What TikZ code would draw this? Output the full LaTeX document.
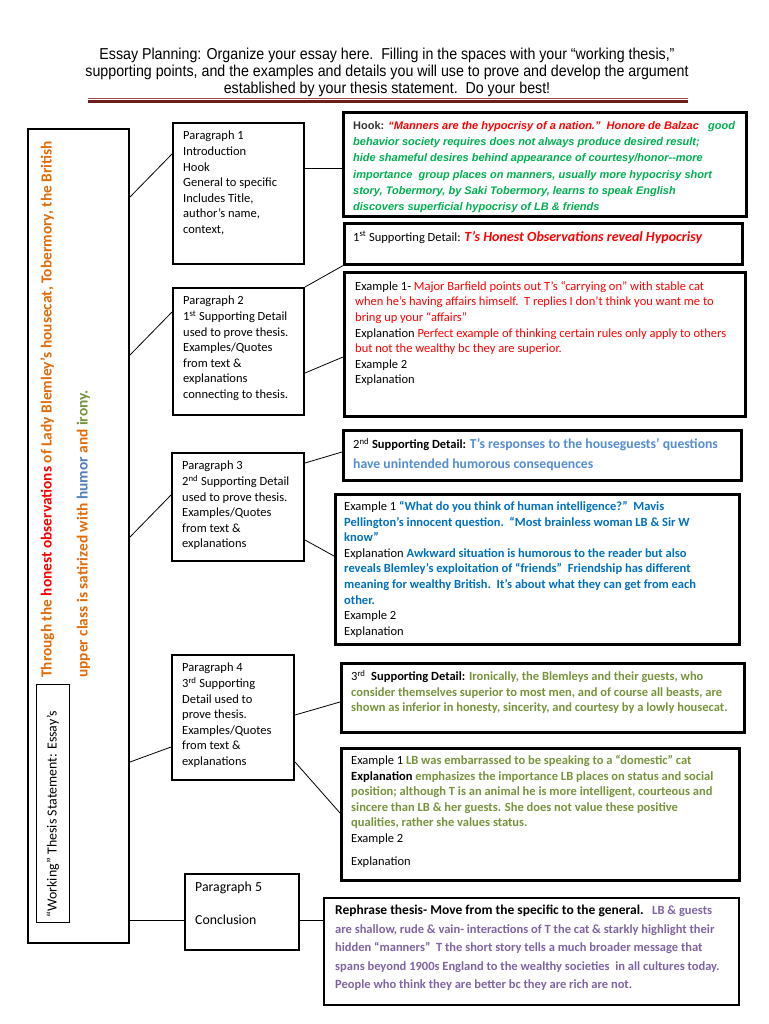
\documentclass[tikz,border=0pt]{standalone}
\usepackage{fontspec}
\setmainfont{Carlito}
\newfontfamily\ari{Liberation Sans}
\newfontfamily\hdrf[FakeStretch=0.9]{Liberation Sans}
\usetikzlibrary{calc}
\definecolor{cOrange}{HTML}{E36C09}
\definecolor{cRed}{HTML}{FF0000}
\definecolor{cHookG}{HTML}{00B050}
\definecolor{cLBlue}{HTML}{548DD4}
\definecolor{cBlue}{HTML}{0070C0}
\definecolor{cHumor}{HTML}{4F81BD}
\definecolor{cOlive}{HTML}{77933C}
\definecolor{cPurple}{HTML}{8064A2}
\definecolor{cMaroonA}{HTML}{9A4A4A}
\definecolor{cMaroonB}{HTML}{6B1E1E}
\newcommand\fsz[2]{\fontsize{#1}{#2}\selectfont}
\begin{document}
\begin{tikzpicture}[x=1pt,y=-1pt,
  pbox/.style={draw, line width=2pt, anchor=north west, inner sep=0pt},
  rbox/.style={draw, line width=2.6pt, anchor=north west, inner sep=0pt},
  conn/.style={line width=0.8pt},
  txt/.style={anchor=north west, inner sep=0pt, align=left},
  ptxt/.style={txt, font=\fsz{12.5}{15.6}},
]
\fill[white] (0,0) rectangle (768,1024);
\useasboundingbox (0,0) rectangle (768,1024);

% header
\node[align=center, inner sep=0pt, anchor=north, font=\hdrf\fsz{15.8}{17}] (hdr) at (387,48)
 {Essay Planning: Organize your essay here.\ \ Filling in the spaces with your “working thesis,”\\
  supporting points, and the examples and details you will use to prove and develop the argument\\
  established by your thesis statement.\ \ Do your best!};
\draw[cMaroonA, line width=0.9pt] (88,98) -- (688,98);
\draw[cMaroonB, line width=3pt] (88,101.5) -- (688,101.5);

% left thesis box
\node[pbox, minimum width=101pt, minimum height=814pt] (lb) at (27,128) {};
\node[draw, line width=1pt, anchor=north west, inner sep=0pt, minimum width=33pt, minimum height=238pt] (labbox) at (36,684) {};
\node[rotate=90, anchor=base, inner sep=0pt, font=\fsz{13.9}{16}] (lab) at (56.5,814) {“Working” Thesis Statement: Essay’s};
\node[rotate=90, anchor=base west, inner sep=0pt, font=\bfseries\fsz{15.4}{16}] (th1) at (51.5,678)
 {\color{cOrange}Through the \color{cRed}honest observations \color{cOrange}of Lady Blemley’s housecat, Tobermory, the British};
\node[rotate=90, anchor=base west, inner sep=0pt, font=\bfseries\fsz{15.4}{16}] (th2) at (87.5,678)
 {\color{cOrange}upper class is satirized with \color{cHumor}humor \color{cOrange}and \color{cOlive}irony.};

% paragraph boxes
\node[pbox, minimum width=131pt, minimum height=141pt] (p1) at (172,122) {};
\node[pbox, minimum width=131pt, minimum height=127pt] (p2) at (172,287) {};
\node[pbox, minimum width=132pt, minimum height=108pt] (p3) at (171,452) {};
\node[pbox, minimum width=122pt, minimum height=125pt] (p4) at (171,654) {};
\node[pbox, minimum width=114pt, minimum height=76pt] (p5) at (184,873) {};

\node[ptxt] (p1t) at (183,131) {Paragraph 1\\Introduction\\Hook\\General to specific\\Includes Title,\\author’s name,\\context,};
\node[ptxt] (p2t) at (183,296) {Paragraph 2\\1\textsuperscript{st} Supporting Detail\\used to prove thesis.\\Examples/Quotes\\from text \&\\explanations\\connecting to thesis.};
\node[ptxt] (p3t) at (182,461) {Paragraph 3\\2\textsuperscript{nd} Supporting Detail\\used to prove thesis.\\Examples/Quotes\\from text \&\\explanations};
\node[ptxt] (p4t) at (182,663) {Paragraph 4\\3\textsuperscript{rd} Supporting\\Detail used to\\prove thesis.\\Examples/Quotes\\from text \&\\explanations};
\node[txt, font=\fsz{13.8}{33}] (p5t) at (195,882) {Paragraph 5\\Conclusion};

% right boxes
\node[rbox, minimum width=403pt, minimum height=104pt] (hook) at (342,111) {};
\node[rbox, minimum width=398pt, minimum height=41pt] (sd1) at (343,222) {};
\node[rbox, minimum width=401pt, minimum height=144pt] (ex1) at (343,271) {};
\node[rbox, minimum width=398pt, minimum height=50pt] (sd2) at (342,429) {};
\node[rbox, minimum width=404pt, minimum height=150pt] (ex2) at (334,493) {};
\node[rbox, minimum width=403pt, minimum height=69pt] (sd3) at (340,662) {};
\node[rbox, minimum width=398pt, minimum height=132pt] (ex3) at (340,747) {};
\node[draw, line width=2pt, anchor=north west, inner sep=0pt, minimum width=415pt, minimum height=107pt] (con) at (323,897) {};

\node[txt, font=\ari\bfseries\itshape\fsz{11}{16.3}] (hookt) at (353,121)
 {{\upshape\color{black!80}Hook:} {\color{cRed}“Manners are the hypocrisy of a nation.”\ \ Honore de Balzac}\ \ \ {\color{cHookG}good}\\
  \color{cHookG}behavior society requires does not always produce desired result;\\
  \color{cHookG}hide shameful desires behind appearance of courtesy/honor--more\\
  \color{cHookG}importance\ \ group places on manners, usually more hypocrisy short\\
  \color{cHookG}story, Tobermory, by Saki Tobermory, learns to speak English\\
  \color{cHookG}discovers superficial hypocrisy of LB \& friends};

\node[txt, font=\fsz{12.5}{15.6}] (sd1t) at (353,231)
 {1\textsuperscript{st} Supporting Detail: {\color{cRed}\bfseries\itshape\fsz{14}{18}T’s Honest Observations reveal Hypocrisy}};

\node[ptxt] (ex1t) at (355,281)
 {Example 1- \color{cRed}Major Barfield points out T’s “carrying on” with stable cat\\
  \color{cRed}when he’s having affairs himself.\ \ T replies I don’t think you want me to\\
  \color{cRed}bring up your “affairs”\\
  Explanation \color{cRed}Perfect example of thinking certain rules only apply to others\\
  \color{cRed}but not the wealthy bc they are superior.\\
  Example 2\\
  Explanation};

\node[txt, font=\fsz{12.5}{20}] (sd2t) at (353,438)
 {2\textsuperscript{nd} {\bfseries Supporting Detail:} {\color{cLBlue}\bfseries\fsz{13.7}{20}T’s responses to the houseguests’ questions}\\
  {\color{cLBlue}\bfseries\fsz{13.7}{20}have unintended humorous consequences}};

\node[ptxt] (ex2t) at (344,501)
 {Example 1 {\color{cBlue}\bfseries “What do you think of human intelligence?”\ \ Mavis}\\
  {\color{cBlue}\bfseries Pellington’s innocent question.\ \ “Most brainless woman LB \& Sir W}\\
  {\color{cBlue}\bfseries know”}\\
  Explanation {\color{cBlue}\bfseries Awkward situation is humorous to the reader but also}\\
  {\color{cBlue}\bfseries reveals Blemley’s exploitation of “friends”\ \ Friendship has different}\\
  {\color{cBlue}\bfseries meaning for wealthy British.\ \ It’s about what they can get from each}\\
  {\color{cBlue}\bfseries other.}\\
  Example 2\\
  Explanation};

\node[ptxt] (sd3t) at (351,670)
 {3\textsuperscript{rd}\ \ {\bfseries Supporting Detail:} {\color{cOlive}\bfseries Ironically, the Blemleys and their guests, who}\\
  {\color{cOlive}\bfseries consider themselves superior to most men, and of course all beasts, are}\\
  {\color{cOlive}\bfseries shown as inferior in honesty, sincerity, and courtesy by a lowly housecat.}};

\node[ptxt] (ex3t) at (351,755)
 {Example 1 {\color{cOlive}\bfseries LB was embarrassed to be speaking to a “domestic” cat}\\
  {\bfseries Explanation} {\color{cOlive}\bfseries emphasizes the importance LB places on status and social}\\
  {\color{cOlive}\bfseries position; although T is an animal he is more intelligent, courteous and}\\
  {\color{cOlive}\bfseries sincere than LB \& her guests. She does not value these positive}\\
  {\color{cOlive}\bfseries qualities, rather she values status.}\\
  Example 2\\[7pt]
  Explanation};

\node[txt, font=\bfseries\fsz{12.5}{18.5}] (cont) at (335,905)
 {{\fsz{13.5}{18.5}Rephrase thesis- Move from the specific to the general.}\ \ \ {\color{cPurple}LB \& guests}\\
  {\color{cPurple}are shallow, rude \& vain- interactions of T the cat \& starkly highlight their}\\
  {\color{cPurple}hidden “manners”\ \ T the short story tells a much broader message that}\\
  {\color{cPurple}spans beyond 1900s England to the wealthy societies\ \ in all cultures today.}\\
  {\color{cPurple}People who think they are better bc they are rich are not.}};

% connectors
\draw[conn] (lb.east |- 0,197) -- (p1.west |- 0,154);
\draw[conn] (lb.east |- 0,355) -- (p2.west |- 0,312);
\draw[conn] (lb.east |- 0,537) -- (p3.west |- 0,495);
\draw[conn] (lb.east |- 0,762) -- (p4.west |- 0,747);
\draw[conn] (lb.east |- 0,920) -- (p5.west |- 0,920);
\draw[conn] (p1.east |- 0,168) -- (hook.west |- 0,168);
\draw[conn] (p2.north east) -- (sd1.south west);
\draw[conn] (p2.east |- 0,373) -- (ex1.west |- 0,357);
\draw[conn] (p3.east |- 0,463) -- (sd2.west |- 0,452);
\draw[conn] (p3.east |- 0,540) -- (ex2.west |- 0,556);
\draw[conn] (p4.east |- 0,715) -- (sd3.west |- 0,702);
\draw[conn] (p4.east |- 0,762) -- (ex3.west |- 0,813);
\draw[conn] (p5.east |- 0,920) -- (con.west |- 0,920);
\end{tikzpicture}
\end{document}
